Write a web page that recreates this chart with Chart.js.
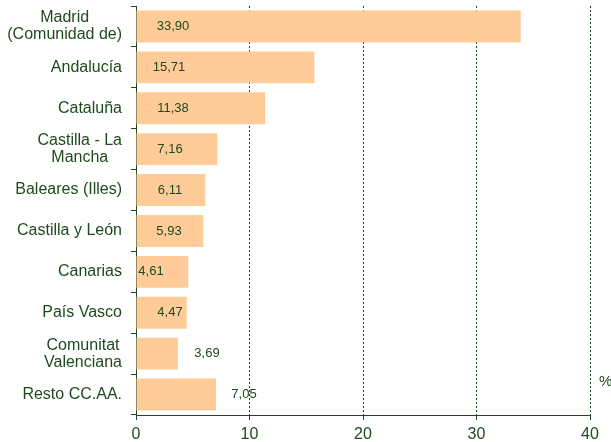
<!DOCTYPE html>
<html>
<head>
<meta charset="utf-8">
<script src="https://cdn.jsdelivr.net/npm/chart.js@4/dist/chart.umd.min.js"></script>
<style>
  html, body { margin: 0; padding: 0; background: #fff; }
</style>
</head>
<body>
<canvas id="chart" width="611" height="442"></canvas>
<script>
// Regions (multi-line labels as arrays) and their share in %
const categories = [
    ['Madrid', '(Comunidad de)'],
    ['Andalucía'],
    ['Cataluña'],
    ['Castilla - La', 'Mancha'],
    ['Baleares (Illes)'],
    ['Castilla y León'],
    ['Canarias'],
    ['País Vasco'],
    ['Comunitat', 'Valenciana'],
    ['Resto CC.AA.'],
];
const shares = [33.90, 15.71, 11.38, 7.16, 6.11, 5.93, 4.61, 4.47, 3.69, 7.05];
const xTicks = [0, 10, 20, 30, 40];

const TEXT = '#1e4a1e';
const BAR = '#ffcc99';
const FONT = '"Liberation Sans", Arial, sans-serif';

// where each value label sits, px right of the axis (as in the original sheet)
const labelOffset = [37, 33, 37, 34, 34, 33, 15, 34, 71, 108];

const labelsPlugin = {
    id: 'labels',
    afterDraw(chart) {
        const { ctx, scales: { x, y } } = chart;
        ctx.save();
        ctx.fillStyle = TEXT;
        ctx.textBaseline = 'middle';
        ctx.textAlign = 'center';

        // value labels
        ctx.font = '13px ' + FONT;
        shares.forEach((v, i) => {
            const yc = y.getPixelForValue(i);
            ctx.fillText(v.toFixed(2).replace('.', ','), x.left + labelOffset[i], yc);
        });

        // category labels: block right-aligned, lines centred in the block
        ctx.font = '16px ' + FONT;
        categories.forEach((lines, i) => {
            const yc = y.getPixelForValue(i);
            const w = Math.max(...lines.map(l => ctx.measureText(l).width));
            const cx = x.left - 14 - w / 2;
            lines.forEach((l, j) => {
                ctx.fillText(l, cx, yc + (j - (lines.length - 1) / 2) * 17);
            });
        });

        // unit
        ctx.font = '15px ' + FONT;
        ctx.textAlign = 'left';
        ctx.fillText('%', x.right + 9, y.bottom - 33);
        ctx.restore();
    },
};

new Chart(document.getElementById('chart'), {
    type: 'bar',
    data: {
        labels: categories,
        datasets: [{
            data: shares,
            backgroundColor: BAR,
            borderWidth: 0,
            barPercentage: 0.78,
            categoryPercentage: 1,
        }],
    },
    options: {
        indexAxis: 'y',
        responsive: false,
        animation: false,
        layout: { padding: { left: 131, right: 21, top: 6, bottom: 0 } },
        plugins: {
            legend: { display: false },
            tooltip: { enabled: false },
        },
        scales: {
            x: {
                min: 0,
                max: 40,
                afterBuildTicks: axis => { axis.ticks = xTicks.map(v => ({ value: v })); },
                afterFit: axis => { axis.height = 27; },
                ticks: { color: TEXT, font: { family: FONT, size: 16 }, padding: 5 },
                grid: {
                    color: TEXT,
                    lineWidth: 1,
                    tickLength: 5,
                    tickBorderDash: [],
                },
                border: { color: TEXT, width: 1, dash: [2, 2] },
            },
            y: {
                ticks: { display: false },
                grid: {
                    offset: true,
                    drawOnChartArea: false,
                    color: TEXT,
                    tickLength: 5,
                },
                border: { color: TEXT, width: 1 },
            },
        },
    },
    plugins: [labelsPlugin],
});
</script>
</body>
</html>
